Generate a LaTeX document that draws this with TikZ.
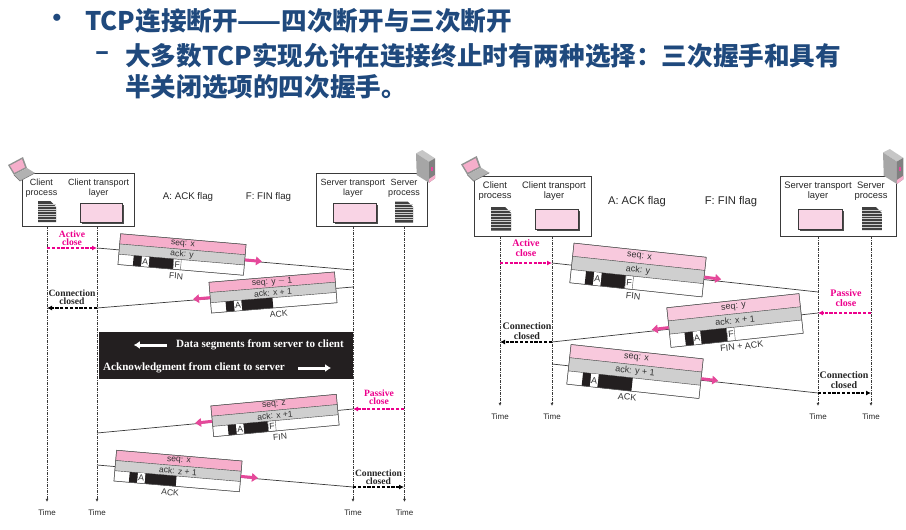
\documentclass[tikz,border=0pt]{standalone}
\usepackage{fontspec}
\setmainfont{Liberation Sans}
\newfontfamily\timesfam{Liberation Serif}
\newfontfamily\cjk{Noto Sans CJK SC}
\usepackage{tikz}
\usetikzlibrary{arrows.meta,calc,positioning,shadows}
\usepackage{xcolor}
\definecolor{TcpTitle}{HTML}{1F497D}
\definecolor{TcpPink}{HTML}{F6AECB}
\definecolor{TcpPinkPale}{HTML}{F9D4E5}
\definecolor{TcpGray}{HTML}{CFCFCF}
\definecolor{TcpLine}{HTML}{3A3A3A}
\definecolor{TcpMagenta}{HTML}{EC008C}
\definecolor{TcpSignal}{HTML}{E5489A}
\definecolor{TcpBlack}{HTML}{231F20}

% one tilted segment: name, centre, angle, seq, ack, end of black run, flag, label, label shift
\newcommand{\tcpsegment}[9]{%
  \begin{scope}[shift={#2},rotate=#3,every node/.append style={transform shape}]
    \filldraw[segrow,fill=\segpink] (-\segw/2,-1.5*\rowh) rectangle (\segw/2,-0.5*\rowh);
    \filldraw[segrow,fill=TcpGray] (-\segw/2,-0.5*\rowh) rectangle (\segw/2,0.5*\rowh);
    \filldraw[segrow,fill=white] (-\segw/2,0.5*\rowh) rectangle (\segw/2,1.5*\rowh);
    \fill[TcpBlack] (-\segw/2+15,0.5*\rowh) rectangle (-\segw/2+#6,1.5*\rowh);
    \node[flagcell,minimum height=\rowh pt] (#1A) at (-\segw/2+27,\rowh) {A};
    \def\tmpflag{#7}\ifx\tmpflag\empty\else
      \node[flagcell,draw=black!65,line width=0.4pt,minimum height=\rowh pt] (#1F) at (-\segw/2+#6+4,\rowh) {#7};
    \fi
    \node[segtext] (#1S) at (0,-\rowh) {#4};
    \node[segtext] (#1K) at (0,0) {#5};
    \node[segtext] (#1L) at (#9,1.5*\rowh+6.5) {#8};
  \end{scope}
  \node[segframe,rotate=#3,minimum width=\segw pt,minimum height=3*\rowh pt] (#1) at #2 {};
}
% small pictures, drawn from their top left corner
\newcommand{\laptopicon}[2]{%
  \begin{scope}[shift={#1},scale=#2]
    \fill[gray!85] (0,8) -- (15,0) -- (19,11) -- (6,18) -- cycle;
    \fill[TcpPink] (2,8.6) -- (14,2.2) -- (17,10.3) -- (6.4,15.8) -- cycle;
    \fill[gray!60] (6,18) -- (19,11) -- (27,16) -- (12,24) -- cycle;
    \draw[gray!90!black,line width=0.5pt] (6,18) -- (12,24) -- (27,16);
  \end{scope}
}
\newcommand{\servericon}[2]{%
  \begin{scope}[shift={#1},scale=#2]
    \fill[gray!45] (0,3.3) -- (6.3,0) -- (19,8.3) -- (13,11.7) -- cycle;
    \fill[gray!70] (0,3.3) -- (13,11.7) -- (13,32.7) -- (0.7,25) -- cycle;
    \fill[gray!100!black] (13,11.7) -- (19,8.3) -- (19,28.3) -- (13,32.7) -- cycle;
    \fill[TcpPink] (13,29) -- (19,25) -- (19,28.3) -- (13,32.7) -- cycle;
    \fill[TcpSignal] (14.5,17) rectangle (16.5,21);
  \end{scope}
}
\newcommand{\docicon}[2]{%
  \begin{scope}[shift={#1},scale=#2]
    \fill[black!75] (0,0) -- (12.5,0) -- (18,5.5) -- (18,21) -- (0,21) -- cycle;
    \foreach \yy in {3,5.5,8,10.5,13,15.5,18}
      \draw[white!60!gray,line width=0.5pt] (0,\yy) -- (18,\yy);
  \end{scope}
}

\begin{document}
\begin{tikzpicture}[
  x=1pt,y=-1pt,>=Latex,
  hostbox/.style={draw=TcpLine,fill=white,line width=0.7pt,inner sep=0pt},
  buffer/.style={draw=TcpLine,fill=TcpPinkPale,line width=0.6pt,inner sep=0pt,
    copy shadow={shadow xshift=2pt,shadow yshift=-2pt,fill=black!70,draw=none}},
  hosttext/.style={align=center,inner sep=0pt,text=black!85,
    font=\fontsize{9}{10}\selectfont},
  flagnote/.style={inner sep=0pt,text=black!85,font=\fontsize{9.7}{11}\selectfont},
  timecap/.style={inner sep=2pt,text=black!85,font=\fontsize{8}{9}\selectfont},
  lane/.style={-{Latex[length=3pt,width=3pt]},draw=TcpLine,line width=0.6pt,
    dash pattern=on 3pt off 1pt on 1pt off 1pt,shorten >=6pt},
  wire/.style={draw=TcpLine,line width=0.7pt},
  signal/.style={-{Triangle[length=6pt,width=8.5pt]},draw=TcpSignal,line width=3pt},
  closepink/.style={-{Latex[length=5pt,width=5pt]},draw=TcpMagenta,line width=1.2pt,dash pattern=on 3.2pt off 1.6pt},
  closeblack/.style={-{Latex[length=5pt,width=5pt]},draw=black,line width=1.1pt,dash pattern=on 3.2pt off 1.6pt},
  closetag/.style={align=center,inner sep=0pt,text=black!85,
    font=\timesfam\bfseries\fontsize{9.6}{8.4}\selectfont},
  closetagpink/.style={closetag,text=TcpMagenta},
  segrow/.style={draw=black!65,line width=0.4pt},
  segframe/.style={draw=black!65,line width=0.5pt,inner sep=0pt},
  segtext/.style={inner sep=0pt,text=black!80,font=\fontsize{8.6}{9}\selectfont},
  flagcell/.style={draw=none,fill=white,inner sep=0pt,minimum width=7.5pt,text=black!80,
    font=\fontsize{8.6}{9}\selectfont},
  darktext/.style={inner sep=0pt,text=white,font=\timesfam\bfseries\fontsize{11.1}{12}\selectfont},
  whitearrow/.style={-{Latex[length=6pt,width=8pt]},draw=white,line width=3pt},
  headline/.style={anchor=west,inner sep=0pt,text=TcpTitle,
    font=\cjk\bfseries\fontsize{25.6}{28}\selectfont}
]
\useasboundingbox (0,0) rectangle (906,530);

% slide heading
\node[headline,anchor=center] (bulletA) at (57,21) {•};
\node[headline] (headA) at (85,21) {TCP连接断开——四次断开与三次断开};
\node[headline,anchor=center] (bulletB) at (103,56) {–};
\node[headline] (headB) at (125,56) {大多数TCP实现允许在连接终止时有两种选择：三次握手和具有};
\node[headline] (headC) at (125,87) {半关闭选项的四次握手。};

% left picture: four segments, half close in the middle
\begin{scope}
\def\rowh{10.3}\def\segw{126}\def\segpink{TcpPink}
\node[hostbox,minimum width=112pt,minimum height=53pt] (lclient) at (78,199.5) {};
\node[hostbox,minimum width=111pt,minimum height=53pt] (lserver) at (371.5,199.5) {};
\node[hosttext] (lcp) at (41.5,188) {Client\\process};
\node[hosttext] (lct) at (98.7,188) {Client transport\\layer};
\node[hosttext] (lst) at (353,188) {Server transport\\layer};
\node[hosttext] (lsp) at (404,188) {Server\\process};
\node[buffer,minimum width=42pt,minimum height=19pt] (lcbuf) at (101,212.5) {};
\node[buffer,minimum width=43pt,minimum height=19pt] (lsbuf) at (354.5,212.5) {};
\docicon{(38,201)}{1}
\docicon{(395,201.5)}{1}
\laptopicon{(8,157)}{1}
\servericon{(416,150)}{1}
\node[flagnote] (lnoteA) at (188,197) {A: ACK flag};
\node[flagnote] (lnoteF) at (268.5,197) {F: FIN flag};

\foreach \tm/\xx/\bx in {ltA/47/lclient,ltB/97/lclient,ltC/353/lserver,ltD/404.5/lserver}{
  \node[timecap] (\tm) at (\xx,513) {Time};
  \draw[lane] (\tm |- \bx.south) -- (\tm.north);
}

\fill[TcpBlack] (98.7,332) rectangle (353,379);
\node[darktext,anchor=east] (ldata) at (344,345) {Data segments from server to client};
\node[darktext,anchor=west] (lacks) at (103,368) {Acknowledgment from client to server};
\draw[whitearrow] ($(ldata.west)+(-9,0)$) -- ++(-33,0);
\draw[whitearrow] ($(lacks.east)+(13,0)$) -- ++(33,0);

\coordinate (la1) at (97,248);  \coordinate (lb1) at (353,270);
\coordinate (la2) at (97,308);  \coordinate (lb2) at (353,287);
\coordinate (la3) at (97,433);  \coordinate (lb3) at (353,409);
\coordinate (la4) at (97,465);  \coordinate (lb4) at (353,487);
\coordinate (lp1) at (47,248);  \coordinate (lp2) at (47,308);
\coordinate (lp3) at (404,409); \coordinate (lp4) at (404,487);

\draw[wire] (la1) -- (lb1);
\draw[wire] (lb2) -- (la2);
\draw[wire] (lb3) -- (la3);
\draw[wire] (la4) -- (lb4);

\tcpsegment{lfin}{(182,254.5)}{-4.9}{seq: x}{ack: y}{55}{F}{FIN}{-4}
\tcpsegment{lack}{(273,292.5)}{4.7}{seq: y $-$ 1}{ack: x + 1}{62}{}{ACK}{4}
\tcpsegment{lfinb}{(275,415.5)}{5.3}{seq: z}{ack: x +1}{55}{F}{FIN}{3}
\tcpsegment{lackb}{(178,471)}{-4.9}{seq: x}{ack: z + 1}{62}{}{ACK}{-6}

\draw[signal] (lfin.east) -- ($(lfin.east)!17pt!(lb1)$);
\draw[signal] (lack.west) -- ($(lack.west)!17pt!(la2)$);
\draw[signal] (lfinb.west) -- ($(lfinb.west)!17pt!(la3)$);
\draw[signal] (lackb.east) -- ($(lackb.east)!17pt!(lb4)$);

\draw[closepink] (lp1) -- (la1);
\draw[closeblack] (la2) -- (lp2);
\draw[closepink] (lp3) -- (lb3);
\draw[closeblack] (lb4) -- (lp4);
\node[closetagpink] (ltagA) at (72,238) {Active\\close};
\node[closetag] (ltagB) at (72,297) {Connection\\closed};
\node[closetagpink] (ltagC) at (379,397) {Passive\\close};
\node[closetag] (ltagD) at (378.5,477) {Connection\\closed};
\end{scope}

% right picture: same parties, three segments
\begin{scope}[
  hosttext/.append style={font=\fontsize{9.4}{10}\selectfont},
  flagnote/.append style={font=\fontsize{11.2}{12}\selectfont},
  segtext/.append style={font=\fontsize{9}{10}\selectfont},
  flagcell/.append style={font=\fontsize{9}{10}\selectfont},
  closetag/.append style={font=\timesfam\bfseries\fontsize{10}{9.3}\selectfont}]
\def\rowh{13.3}\def\segw{133}\def\segpink{TcpPinkPale!70!TcpPink}
\node[hostbox,minimum width=117pt,minimum height=60pt] (rclient) at (532.5,206) {};
\node[hostbox,minimum width=116pt,minimum height=60pt] (rserver) at (838,206) {};
\node[hosttext] (rcp) at (495,191) {Client\\process};
\node[hosttext] (rct) at (554,191) {Client transport\\layer};
\node[hosttext] (rst) at (818,191) {Server transport\\layer};
\node[hosttext] (rsp) at (871,191) {Server\\process};
\node[buffer,minimum width=43pt,minimum height=20pt] (rcbuf) at (556.5,219) {};
\node[buffer,minimum width=44pt,minimum height=20pt] (rsbuf) at (820,219) {};
\docicon{(491,207)}{1.12}
\docicon{(862,207)}{1.1}
\laptopicon{(461,156)}{1.05}
\servericon{(883,149)}{1.07}
\node[flagnote] (rnoteA) at (637,202) {A: ACK flag};
\node[flagnote] (rnoteF) at (731,202) {F: FIN flag};

\foreach \tm/\xx/\bx in {rtA/500/rclient,rtB/552/rclient,rtC/818/rserver,rtD/871/rserver}{
  \node[timecap] (\tm) at (\xx,417) {Time};
  \draw[lane] (\tm |- \bx.south) -- (\tm.north);
}

\coordinate (ra1) at (552,263);  \coordinate (rb1) at (818,292);
\coordinate (ra2) at (552,342);  \coordinate (rb2) at (818,313);
\coordinate (ra3) at (552,364);  \coordinate (rb3) at (818,393);
\coordinate (rp1) at (500,263);  \coordinate (rp2) at (871,313);
\coordinate (rp3) at (500,342);  \coordinate (rp4) at (871,393);

\draw[wire] (ra1) -- (rb1);
\draw[wire] (rb2) -- (ra2);
\draw[wire] (ra3) -- (rb3);

\tcpsegment{rfin}{(638,270)}{-6.1}{seq: x}{ack: y}{55}{F}{FIN}{-2}
\tcpsegment{rfinack}{(735,320.5)}{6.1}{seq: y}{ack: x + 1}{57}{F}{FIN + ACK}{4}
\tcpsegment{rack}{(635,371.5)}{-6.2}{seq: x}{ack: y + 1}{65}{}{ACK}{-5}

\draw[signal] (rfin.east) -- ($(rfin.east)!17pt!(rb1)$);
\draw[signal] (rfinack.west) -- ($(rfinack.west)!17pt!(ra2)$);
\draw[signal] (rack.east) -- ($(rack.east)!17pt!(rb3)$);

\draw[closepink] (rp1) -- (ra1);
\draw[closepink] (rp2) -- (rb2);
\draw[closeblack] (ra2) -- (rp3);
\draw[closeblack] (rb3) -- (rp4);
\node[closetagpink] (rtagA) at (526,248) {Active\\close};
\node[closetagpink] (rtagB) at (846,298) {Passive\\close};
\node[closetag] (rtagC) at (527,331) {Connection\\closed};
\node[closetag] (rtagD) at (844,380) {Connection\\closed};
\end{scope}
\end{tikzpicture}
\end{document}
